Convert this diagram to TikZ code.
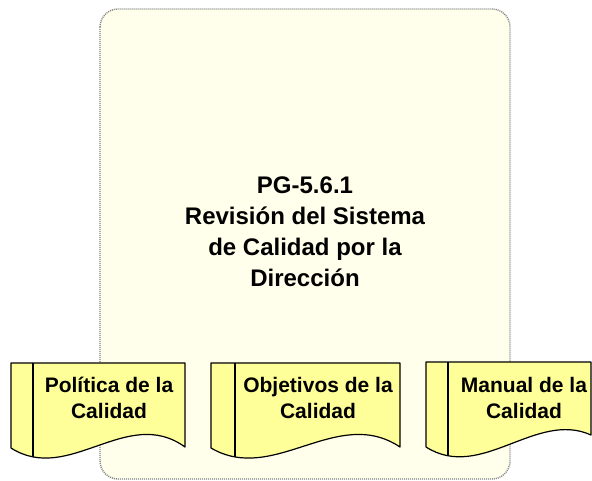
\documentclass[tikz,border=0pt]{standalone}
\usepackage{fontspec}
\setmainfont{Liberation Sans}
\usepackage{xcolor}
\usepackage{tikz}
\usetikzlibrary{positioning}
\definecolor{boxcream}{RGB}{255,255,236}
\definecolor{docyellow}{RGB}{255,255,153}
\tikzset{
  docshape/.style={draw=black, fill=docyellow, line width=1.2pt, line join=round},
  doctext/.style={font=\bfseries\fontsize{21}{26}\selectfont, align=center, inner sep=0pt},
  maintext/.style={font=\bfseries\fontsize{24}{31}\selectfont, align=center, inner sep=0pt}
}

\begin{document}
\begin{tikzpicture}[x=1pt,y=-1pt]
    \useasboundingbox (0,0) rectangle (592,481);
    % Procedure box
    \draw[fill=boxcream, draw=gray, dash pattern=on 1pt off 1pt, line width=1.4pt,
          rounded corners=18pt] (100,9) rectangle (510,479);
    \node[maintext] (proc) at (305,232) {PG-5.6.1\\Revisi\'on del Sistema\\de Calidad por la\\Direcci\'on};
    % Document 1
    \draw[docshape] (11,363) -- (185,363) -- (185,447)
        .. controls (127,405) and (69,485) .. (11,448) -- cycle;
    \begin{scope}
        \clip (11,363) -- (185,363) -- (185,447)
            .. controls (127,405) and (69,485) .. (11,448) -- cycle;
        \draw[line width=1.2pt] (33,363) -- (33,481);
    \end{scope}
    \node[doctext] (politica) at (109,398) {Pol\'itica de la\\Calidad};
    % Document 2
    \draw[docshape] (211,363) -- (400,363) -- (400,447)
        .. controls (337,405) and (274,485) .. (211,448) -- cycle;
    \begin{scope}
        \clip (211,363) -- (400,363) -- (400,447)
            .. controls (337,405) and (274,485) .. (211,448) -- cycle;
        \draw[line width=1.2pt] (235,363) -- (235,481);
    \end{scope}
    \node[doctext] (objetivos) at (318,398) {Objetivos de la\\Calidad};
    % Document 3
    \draw[docshape] (426,362) -- (591,362) -- (591,435)
        .. controls (536,410) and (481,482) .. (426,447) -- cycle;
    \begin{scope}
        \clip (426,362) -- (591,362) -- (591,435)
            .. controls (536,410) and (481,482) .. (426,447) -- cycle;
        \draw[line width=1.2pt] (448,362) -- (448,481);
    \end{scope}
    \node[doctext] (manual) at (524,398) {Manual de la\\Calidad};
\end{tikzpicture}
\end{document}
